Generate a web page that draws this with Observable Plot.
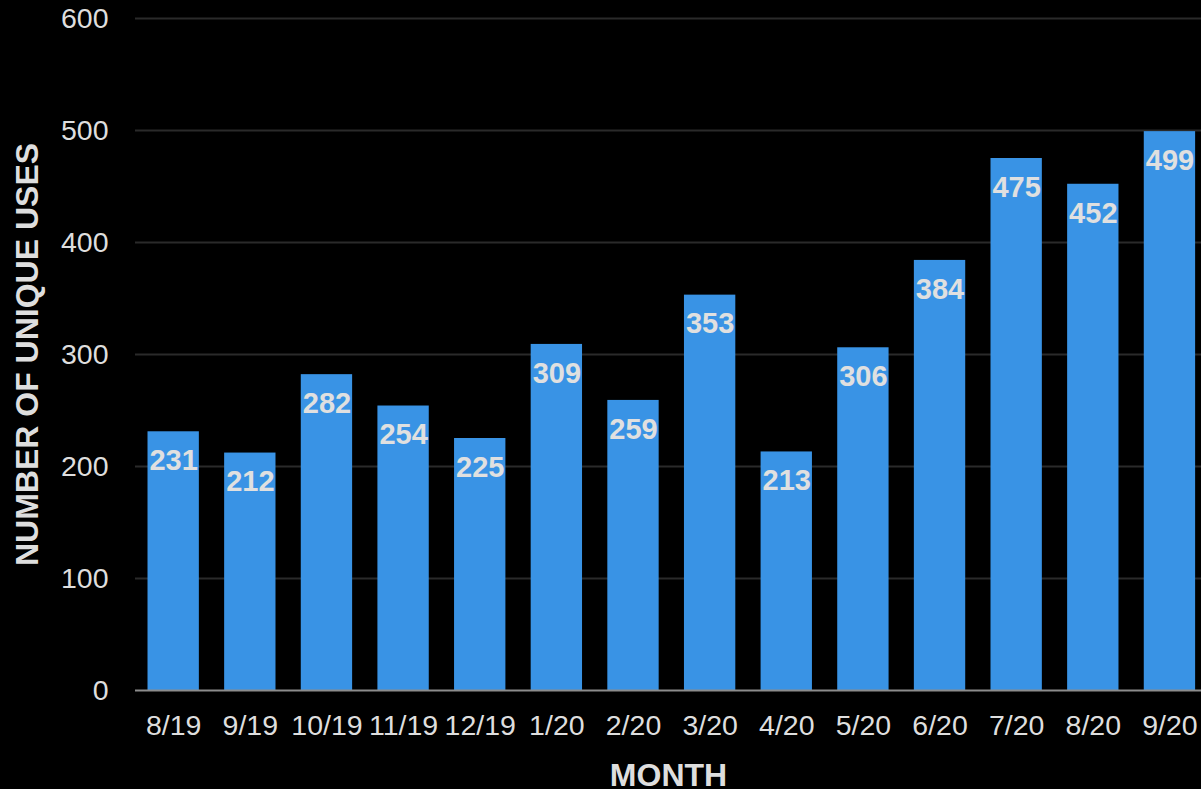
<!DOCTYPE html>
<html>
<head>
<meta charset="utf-8">
<script src="https://cdn.jsdelivr.net/npm/d3@7"></script>
<script src="https://cdn.jsdelivr.net/npm/@observablehq/plot@0.6"></script>
<style>
  html, body { margin: 0; padding: 0; background: #000; overflow: hidden; }
  #chart svg { display: block; }
  g[aria-label="y-axis label"] text, g[aria-label="x-axis label"] text { font-weight: bold; font-size: 32px; fill: #dedede; }
</style>
</head>
<body>
<div id="chart"></div>
<script>
const months = ["8/19","9/19","10/19","11/19","12/19","1/20","2/20","3/20","4/20","5/20","6/20","7/20","8/20","9/20"];
const uses = [231,212,282,254,225,309,259,353,213,306,384,475,452,499];
const yTicks = [0,100,200,300,400,500,600];
const gridTicks = [100,200,300,400,500,600];

const data = months.map((m, i) => ({month: m, uses: uses[i]}));

const chart = Plot.plot({
  width: 1201,
  height: 789,
  marginLeft: 135,
  marginRight: 0,
  marginTop: 18,
  marginBottom: 99,
  style: {background: "#000", color: "#dedede", fontFamily: "'Liberation Sans', Arial, sans-serif", fontSize: "28.5px"},
  x: {domain: months, round: false, paddingInner: 0.33, paddingOuter: 0.12, align: 0.68, label: "MONTH", labelAnchor: "center", labelOffset: 95, tickSize: 0, tickPadding: 24},
  y: {domain: [0, 600], ticks: yTicks, label: "NUMBER OF UNIQUE USES", labelArrow: "none", labelAnchor: "center", labelOffset: 120, tickSize: 0, tickPadding: 27},
  marks: [
    Plot.ruleY(gridTicks, {stroke: "#2a2a2a", strokeWidth: 2}),
    Plot.barY(data, {x: "month", y: "uses", fill: "#3993e5"}),
    Plot.ruleY([0], {stroke: "#8c8c8c", strokeWidth: 2}),
    Plot.text(data, {x: "month", y: "uses", text: d => String(d.uses), dy: 29, fill: "#e0e0e0", fontSize: 29, fontWeight: "bold"})
  ]
});
document.getElementById("chart").appendChild(chart);
</script>
</body>
</html>
